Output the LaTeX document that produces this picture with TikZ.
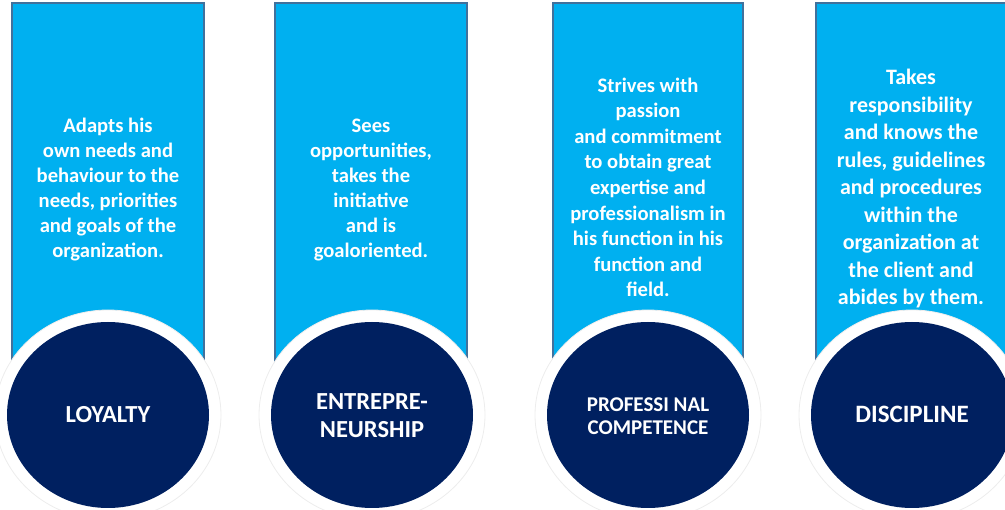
\documentclass[tikz,border=0pt]{standalone}
\usepackage{fontspec}
\setmainfont{Carlito}
\definecolor{lightblue}{HTML}{00B0F0}
\definecolor{bandedge}{HTML}{41719C}
\definecolor{navy}{HTML}{002060}

\begin{document}
\begin{tikzpicture}[x=1pt,y=-1pt,
        band/.style={fill=lightblue,draw=bandedge,line width=1.2pt},
        ring/.style={fill=white,draw=black!7,line width=0.8pt},
        disc/.style={fill=navy},
        say/.style={text=white,font=\bfseries\fontsize{20.6}{25}\selectfont,align=center,anchor=base},
        title/.style={text=white,font=\bfseries\fontsize{24.5}{28}\selectfont,align=center,anchor=base}]

        % Rahmen
        \useasboundingbox (0,0) rectangle (1005,510);
        \clip (0,0) rectangle (1005,510);

        % Bänder und Kreise
        \foreach \l/\r/\c in {12/204/108, 275/467/372, 553/743/648, 816/1007/912}{
            \draw[band] (\l,3) rectangle (\r,415);
            \draw[ring] (\c,415) ellipse (113pt and 105pt);
            \fill[disc] (\c,415) ellipse (101pt and 93pt);
        }

        % Texte in den Bändern (Anker: letzte Zeile)
        \node[say] (loyaltytext) at (108,258) {Adapts his\\own needs and\\behaviour to the\\needs, priorities\\and goals of the\\organization.};
        \node[say] (entretext) at (371,258) {Sees\\opportunities,\\takes the\\initiative\\and is\\goaloriented.};
        \node[say,font=\bfseries\fontsize{20.6}{25.6}\selectfont] (proftext) at (648,297) {Strives with\\passion\\and commitment\\to obtain great\\expertise and\\professionalism in\\his function in his\\function and\\field.};
        \node[say,font=\bfseries\fontsize{22}{27.5}\selectfont] (disctext) at (911,305) {Takes\\responsibility\\and knows the\\rules, guidelines\\and procedures\\within the\\organization at\\the client and\\abides by them.};

        % Titel in den Kreisen
        \node[title] (loyalty) at (108,423) {LOYALTY};
        \node[title] (entre) at (372,438) {ENTREPRE-\\NEURSHIP};
        \node[title,font=\bfseries\fontsize{21}{23}\selectfont] (prof) at (648,435) {PROFESSI NAL\\COMPETENCE};
        \node[title,font=\bfseries\fontsize{25}{26}\selectfont] (disc) at (912,423) {DISCIPLINE};
\end{tikzpicture}
\end{document}
